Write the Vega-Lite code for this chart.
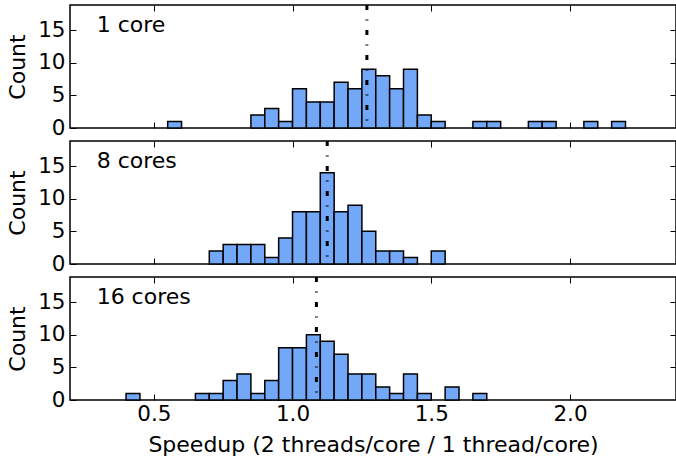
{
  "$schema": "https://vega.github.io/schema/vega-lite/v6.json",
  "padding": {"left": 5, "top": 2, "right": 1, "bottom": 0},
  "background": "white",
  "config": {
    "view": {"stroke": "black", "strokeWidth": 1.5},
    "font": "DejaVu Sans",
    "axis": {
      "labelFont": "DejaVu Sans", "titleFont": "DejaVu Sans",
      "labelFontSize": 21.5, "titleFontSize": 22,
      "labelColor": "black", "titleColor": "black", "titleFontWeight": "normal",
      "domain": false, "grid": false,
      "tickColor": "black", "tickSize": -6, "tickWidth": 1
    }
  },
  "spacing": 13,
  "bounds": "flush",
  "datasets": {
    "bins": [
      {"panel": "1 core", "x0": 0.55, "x1": 0.60, "count": 1},
      {"panel": "1 core", "x0": 0.85, "x1": 0.90, "count": 2},
      {"panel": "1 core", "x0": 0.90, "x1": 0.95, "count": 3},
      {"panel": "1 core", "x0": 0.95, "x1": 1.00, "count": 1},
      {"panel": "1 core", "x0": 1.00, "x1": 1.05, "count": 6},
      {"panel": "1 core", "x0": 1.05, "x1": 1.10, "count": 4},
      {"panel": "1 core", "x0": 1.10, "x1": 1.15, "count": 4},
      {"panel": "1 core", "x0": 1.15, "x1": 1.20, "count": 7},
      {"panel": "1 core", "x0": 1.20, "x1": 1.25, "count": 6},
      {"panel": "1 core", "x0": 1.25, "x1": 1.30, "count": 9},
      {"panel": "1 core", "x0": 1.30, "x1": 1.35, "count": 8},
      {"panel": "1 core", "x0": 1.35, "x1": 1.40, "count": 6},
      {"panel": "1 core", "x0": 1.40, "x1": 1.45, "count": 9},
      {"panel": "1 core", "x0": 1.45, "x1": 1.50, "count": 2},
      {"panel": "1 core", "x0": 1.50, "x1": 1.55, "count": 1},
      {"panel": "1 core", "x0": 1.65, "x1": 1.70, "count": 1},
      {"panel": "1 core", "x0": 1.70, "x1": 1.75, "count": 1},
      {"panel": "1 core", "x0": 1.85, "x1": 1.90, "count": 1},
      {"panel": "1 core", "x0": 1.90, "x1": 1.95, "count": 1},
      {"panel": "1 core", "x0": 2.05, "x1": 2.10, "count": 1},
      {"panel": "1 core", "x0": 2.15, "x1": 2.20, "count": 1},
      {"panel": "8 cores", "x0": 0.70, "x1": 0.75, "count": 2},
      {"panel": "8 cores", "x0": 0.75, "x1": 0.80, "count": 3},
      {"panel": "8 cores", "x0": 0.80, "x1": 0.85, "count": 3},
      {"panel": "8 cores", "x0": 0.85, "x1": 0.90, "count": 3},
      {"panel": "8 cores", "x0": 0.90, "x1": 0.95, "count": 1},
      {"panel": "8 cores", "x0": 0.95, "x1": 1.00, "count": 4},
      {"panel": "8 cores", "x0": 1.00, "x1": 1.05, "count": 8},
      {"panel": "8 cores", "x0": 1.05, "x1": 1.10, "count": 8},
      {"panel": "8 cores", "x0": 1.10, "x1": 1.15, "count": 14},
      {"panel": "8 cores", "x0": 1.15, "x1": 1.20, "count": 8},
      {"panel": "8 cores", "x0": 1.20, "x1": 1.25, "count": 9},
      {"panel": "8 cores", "x0": 1.25, "x1": 1.30, "count": 5},
      {"panel": "8 cores", "x0": 1.30, "x1": 1.35, "count": 2},
      {"panel": "8 cores", "x0": 1.35, "x1": 1.40, "count": 2},
      {"panel": "8 cores", "x0": 1.40, "x1": 1.45, "count": 1},
      {"panel": "8 cores", "x0": 1.50, "x1": 1.55, "count": 2},
      {"panel": "16 cores", "x0": 0.40, "x1": 0.45, "count": 1},
      {"panel": "16 cores", "x0": 0.65, "x1": 0.70, "count": 1},
      {"panel": "16 cores", "x0": 0.70, "x1": 0.75, "count": 1},
      {"panel": "16 cores", "x0": 0.75, "x1": 0.80, "count": 3},
      {"panel": "16 cores", "x0": 0.80, "x1": 0.85, "count": 4},
      {"panel": "16 cores", "x0": 0.85, "x1": 0.90, "count": 1},
      {"panel": "16 cores", "x0": 0.90, "x1": 0.95, "count": 3},
      {"panel": "16 cores", "x0": 0.95, "x1": 1.00, "count": 8},
      {"panel": "16 cores", "x0": 1.00, "x1": 1.05, "count": 8},
      {"panel": "16 cores", "x0": 1.05, "x1": 1.10, "count": 10},
      {"panel": "16 cores", "x0": 1.10, "x1": 1.15, "count": 9},
      {"panel": "16 cores", "x0": 1.15, "x1": 1.20, "count": 7},
      {"panel": "16 cores", "x0": 1.20, "x1": 1.25, "count": 4},
      {"panel": "16 cores", "x0": 1.25, "x1": 1.30, "count": 4},
      {"panel": "16 cores", "x0": 1.30, "x1": 1.35, "count": 2},
      {"panel": "16 cores", "x0": 1.35, "x1": 1.40, "count": 1},
      {"panel": "16 cores", "x0": 1.40, "x1": 1.45, "count": 4},
      {"panel": "16 cores", "x0": 1.45, "x1": 1.50, "count": 1},
      {"panel": "16 cores", "x0": 1.55, "x1": 1.60, "count": 2},
      {"panel": "16 cores", "x0": 1.65, "x1": 1.70, "count": 1}
    ],
    "panels": [
      {"panel": "1 core", "mean": 1.268},
      {"panel": "8 cores", "mean": 1.125},
      {"panel": "16 cores", "mean": 1.086}
    ]
  },
  "vconcat": [
    {
      "width": 606, "height": 123,
      "layer": [
        {
          "data": {"name": "bins"},
          "transform": [{"filter": "datum.panel === '1 core'"}],
          "mark": {"type": "rect", "fill": "#73a8f8", "stroke": "black", "strokeWidth": 1.5},
          "encoding": {
            "x": {"field": "x0", "type": "quantitative", "scale": {"domain": [0.198, 2.382], "nice": false, "zero": false},
                  "axis": {"orient": "bottom", "values": [0.5, 1, 1.5, 2], "labels": false, "title": null, "minExtent": 0, "maxExtent": 0}},
            "x2": {"field": "x1"},
            "y": {"field": "count", "type": "quantitative", "scale": {"domain": [0, 18.85], "nice": false},
                  "axis": {"orient": "left", "values": [0, 5, 10, 15], "labelPadding": 11, "title": "Count", "titleX": -46, "titleY": 61.5, "titleAngle": -90, "titleBaseline": "alphabetic", "titleAlign": "center", "minExtent": 64, "maxExtent": 64}},
            "y2": {"datum": 0}
          }
        },
        {
          "data": {"name": "bins"},
          "transform": [{"filter": "datum.panel === '1 core'"}],
          "mark": {"type": "point", "opacity": 0},
          "encoding": {
            "x": {"field": "x0", "type": "quantitative", "axis": {"orient": "top", "values": [0.5, 1, 1.5, 2], "labels": false, "title": null, "minExtent": 0, "maxExtent": 0}},
            "y": {"field": "count", "type": "quantitative", "axis": {"orient": "right", "values": [5, 10, 15], "labels": false, "title": null, "minExtent": 0, "maxExtent": 0}}
          }
        },
        {
          "data": {"name": "panels"},
          "transform": [{"filter": "datum.panel === '1 core'"}],
          "mark": {"type": "rule", "stroke": "black", "strokeWidth": 3, "strokeDash": [5, 9.5, 1, 9.5]},
          "encoding": {"x": {"field": "mean", "type": "quantitative", "axis": null}}
        },
        {
          "data": {"name": "panels"},
          "transform": [{"filter": "datum.panel === '1 core'"}],
          "mark": {"type": "text", "align": "left", "baseline": "alphabetic", "fontSize": 22, "font": "DejaVu Sans", "color": "black"},
          "encoding": {
            "x": {"datum": 0.294, "type": "quantitative", "axis": null},
            "y": {"datum": 14.67, "type": "quantitative", "axis": null},
            "text": {"field": "panel"}
          }
        }
      ],
      "resolve": {"axis": {"x": "independent", "y": "independent"}}
    },
    {
      "width": 606, "height": 123,
      "layer": [
        {
          "data": {"name": "bins"},
          "transform": [{"filter": "datum.panel === '8 cores'"}],
          "mark": {"type": "rect", "fill": "#73a8f8", "stroke": "black", "strokeWidth": 1.5},
          "encoding": {
            "x": {"field": "x0", "type": "quantitative", "scale": {"domain": [0.198, 2.382], "nice": false, "zero": false},
                  "axis": {"orient": "bottom", "values": [0.5, 1, 1.5, 2], "labels": false, "title": null, "minExtent": 0, "maxExtent": 0}},
            "x2": {"field": "x1"},
            "y": {"field": "count", "type": "quantitative", "scale": {"domain": [0, 18.85], "nice": false},
                  "axis": {"orient": "left", "values": [0, 5, 10, 15], "labelPadding": 11, "title": "Count", "titleX": -46, "titleY": 61.5, "titleAngle": -90, "titleBaseline": "alphabetic", "titleAlign": "center", "minExtent": 64, "maxExtent": 64}},
            "y2": {"datum": 0}
          }
        },
        {
          "data": {"name": "bins"},
          "transform": [{"filter": "datum.panel === '8 cores'"}],
          "mark": {"type": "point", "opacity": 0},
          "encoding": {
            "x": {"field": "x0", "type": "quantitative", "axis": {"orient": "top", "values": [0.5, 1, 1.5, 2], "labels": false, "title": null, "minExtent": 0, "maxExtent": 0}},
            "y": {"field": "count", "type": "quantitative", "axis": {"orient": "right", "values": [5, 10, 15], "labels": false, "title": null, "minExtent": 0, "maxExtent": 0}}
          }
        },
        {
          "data": {"name": "panels"},
          "transform": [{"filter": "datum.panel === '8 cores'"}],
          "mark": {"type": "rule", "stroke": "black", "strokeWidth": 3, "strokeDash": [5, 9.5, 1, 9.5]},
          "encoding": {"x": {"field": "mean", "type": "quantitative", "axis": null}}
        },
        {
          "data": {"name": "panels"},
          "transform": [{"filter": "datum.panel === '8 cores'"}],
          "mark": {"type": "text", "align": "left", "baseline": "alphabetic", "fontSize": 22, "font": "DejaVu Sans", "color": "black"},
          "encoding": {
            "x": {"datum": 0.294, "type": "quantitative", "axis": null},
            "y": {"datum": 14.67, "type": "quantitative", "axis": null},
            "text": {"field": "panel"}
          }
        }
      ],
      "resolve": {"axis": {"x": "independent", "y": "independent"}}
    },
    {
      "width": 606, "height": 123,
      "layer": [
        {
          "data": {"name": "bins"},
          "transform": [{"filter": "datum.panel === '16 cores'"}],
          "mark": {"type": "rect", "fill": "#73a8f8", "stroke": "black", "strokeWidth": 1.5},
          "encoding": {
            "x": {"field": "x0", "type": "quantitative", "scale": {"domain": [0.198, 2.382], "nice": false, "zero": false},
                  "axis": {"orient": "bottom", "values": [0.5, 1, 1.5, 2], "labelBaseline": "alphabetic", "labelPadding": 26.5, "title": "Speedup (2 threads/core / 1 thread/core)", "titleY": 51, "titleBaseline": "alphabetic"}},
            "x2": {"field": "x1"},
            "y": {"field": "count", "type": "quantitative", "scale": {"domain": [0, 18.85], "nice": false},
                  "axis": {"orient": "left", "values": [0, 5, 10, 15], "labelPadding": 11, "title": "Count", "titleX": -46, "titleY": 61.5, "titleAngle": -90, "titleBaseline": "alphabetic", "titleAlign": "center", "minExtent": 64, "maxExtent": 64}},
            "y2": {"datum": 0}
          }
        },
        {
          "data": {"name": "bins"},
          "transform": [{"filter": "datum.panel === '16 cores'"}],
          "mark": {"type": "point", "opacity": 0},
          "encoding": {
            "x": {"field": "x0", "type": "quantitative", "axis": {"orient": "top", "values": [0.5, 1, 1.5, 2], "labels": false, "title": null, "minExtent": 0, "maxExtent": 0}},
            "y": {"field": "count", "type": "quantitative", "axis": {"orient": "right", "values": [5, 10, 15], "labels": false, "title": null, "minExtent": 0, "maxExtent": 0}}
          }
        },
        {
          "data": {"name": "panels"},
          "transform": [{"filter": "datum.panel === '16 cores'"}],
          "mark": {"type": "rule", "stroke": "black", "strokeWidth": 3, "strokeDash": [5, 9.5, 1, 9.5]},
          "encoding": {"x": {"field": "mean", "type": "quantitative", "axis": null}}
        },
        {
          "data": {"name": "panels"},
          "transform": [{"filter": "datum.panel === '16 cores'"}],
          "mark": {"type": "text", "align": "left", "baseline": "alphabetic", "fontSize": 22, "font": "DejaVu Sans", "color": "black"},
          "encoding": {
            "x": {"datum": 0.294, "type": "quantitative", "axis": null},
            "y": {"datum": 14.67, "type": "quantitative", "axis": null},
            "text": {"field": "panel"}
          }
        }
      ],
      "resolve": {"axis": {"x": "independent", "y": "independent"}}
    }
  ]
}
